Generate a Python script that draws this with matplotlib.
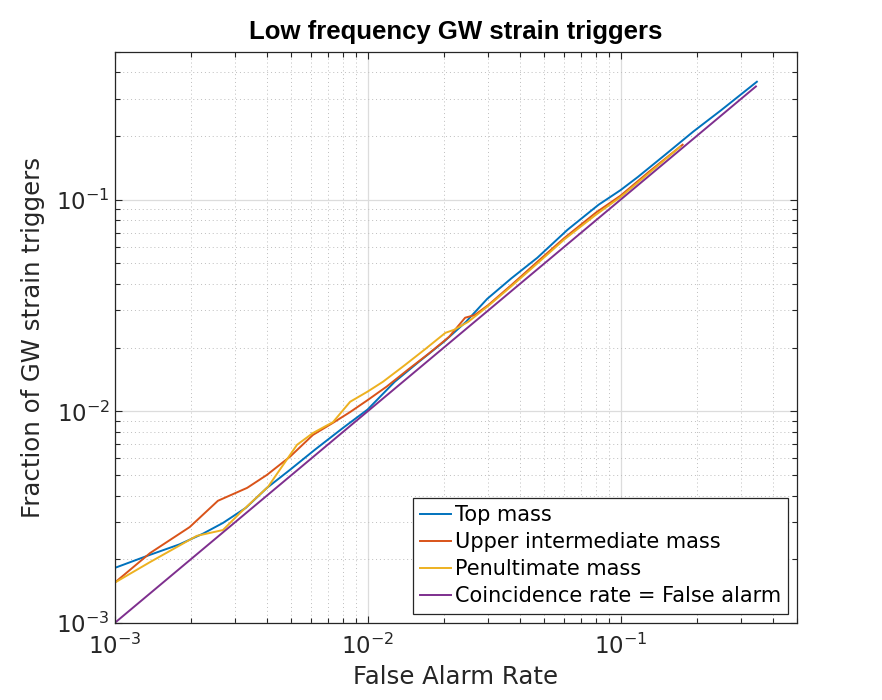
import matplotlib
matplotlib.use('Agg')
import matplotlib.pyplot as plt
from matplotlib.ticker import LogLocator, NullFormatter

# Top mass
top_x = [0.001, 0.00138, 0.0018, 0.00223, 0.00268, 0.0033, 0.004, 0.00493, 0.0062, 0.008, 0.01,
         0.0128, 0.016, 0.02, 0.0245, 0.0297, 0.037, 0.0469, 0.0617, 0.0818, 0.1, 0.117, 0.15,
         0.194, 0.25, 0.346]
top_y = [0.00182, 0.0021, 0.00235, 0.00264, 0.00297, 0.0035, 0.00435, 0.00529, 0.0066, 0.00836, 0.0102,
         0.0138, 0.0172, 0.0213, 0.0265, 0.034, 0.0425, 0.0532, 0.0721, 0.0946, 0.111, 0.128, 0.163,
         0.21, 0.265, 0.361]

# Upper intermediate mass
upper_x = [0.001, 0.00138, 0.00198, 0.00256, 0.00334, 0.004, 0.00493, 0.00608, 0.0073, 0.0085, 0.01,
           0.0119, 0.0145, 0.0175, 0.021, 0.0243, 0.0265, 0.03, 0.037, 0.0469, 0.06, 0.08, 0.1,
           0.13, 0.176]
upper_y = [0.00155, 0.00214, 0.00284, 0.00378, 0.00435, 0.00501, 0.0061, 0.00774, 0.00883, 0.0099, 0.0113,
           0.0131, 0.0158, 0.0188, 0.0225, 0.0277, 0.0285, 0.0318, 0.0395, 0.0509, 0.066, 0.087, 0.1045,
           0.136, 0.182]

# Penultimate mass
penult_x = [0.001, 0.00138, 0.00211, 0.00268, 0.00313, 0.00404, 0.00526, 0.00608, 0.0073, 0.00853, 0.01,
            0.0115, 0.014, 0.017, 0.0203, 0.022, 0.025, 0.03, 0.037, 0.0469, 0.06, 0.08, 0.1,
            0.13, 0.172]
penult_y = [0.00155, 0.00194, 0.00258, 0.00275, 0.00331, 0.0044, 0.00695, 0.0079, 0.0089, 0.0111, 0.0124,
            0.0138, 0.0165, 0.0198, 0.0235, 0.0243, 0.0265, 0.0315, 0.039, 0.05, 0.065, 0.085, 0.103,
            0.134, 0.178]

# Coincidence rate = false alarm
coinc_x = [0.001, 0.343]
coinc_y = [0.001, 0.343]

labels = ['Top mass', 'Upper intermediate mass', 'Penultimate mass', 'Coincidence rate = False alarm']
colors = ['#0072BD', '#D95319', '#EDB120', '#7E2F8E']

plt.rcParams['font.family'] = 'DejaVu Sans'
plt.rcParams['mathtext.fontset'] = 'dejavusans'

fig = plt.figure(figsize=(8.82, 7.0), dpi=100)
ax = fig.add_axes([0.13, 0.11, 0.774, 0.816])

series = [(top_x, top_y), (upper_x, upper_y), (penult_x, penult_y), (coinc_x, coinc_y)]
for (xs, ys), lab, c in zip(series, labels, colors):
    ax.plot(xs, ys, color=c, lw=1.4, label=lab)

ax.set_xscale('log')
ax.set_yscale('log')
ax.set_xlim(1e-3, 0.5)
ax.set_ylim(1e-3, 0.5)

for a in (ax.xaxis, ax.yaxis):
    a.set_major_locator(LogLocator(base=10, numticks=10))
    a.set_minor_locator(LogLocator(base=10, subs=range(2, 10), numticks=20))
    a.set_minor_formatter(NullFormatter())

ax.grid(True, which='major', color='#dcdcdc', lw=0.9, ls='-')
ax.grid(True, which='minor', color='#bdbdbd', lw=0.7, ls=(0, (1, 3)))
ax.set_axisbelow(True)

ax.tick_params(which='both', direction='in', top=True, right=True, colors='#262626',
               labelsize=16.5, width=0.8)
ax.tick_params(which='major', length=5)
ax.tick_params(which='minor', length=3.5)
ax.tick_params(axis='x', which='major', pad=8)
for s in ax.spines.values():
    s.set_color('#262626')
    s.set_linewidth(0.9)

ax.set_xlabel('False Alarm Rate', fontsize=17.6, color='#262626', labelpad=4)
ax.set_ylabel('Fraction of GW strain triggers', fontsize=17.6, color='#262626', labelpad=8)
ax.set_title('Low frequency GW strain triggers', fontsize=18.5, fontweight='bold',
             family='Liberation Sans', pad=9)

leg = ax.legend(loc='lower right', fontsize=15, fancybox=False, framealpha=1,
                edgecolor='#262626', handlelength=1.5, handletextpad=0.15,
                labelspacing=0.34, borderpad=0.35, borderaxespad=0.45)
leg.get_frame().set_linewidth(0.9)

fig.savefig('out.png', dpi=100)
